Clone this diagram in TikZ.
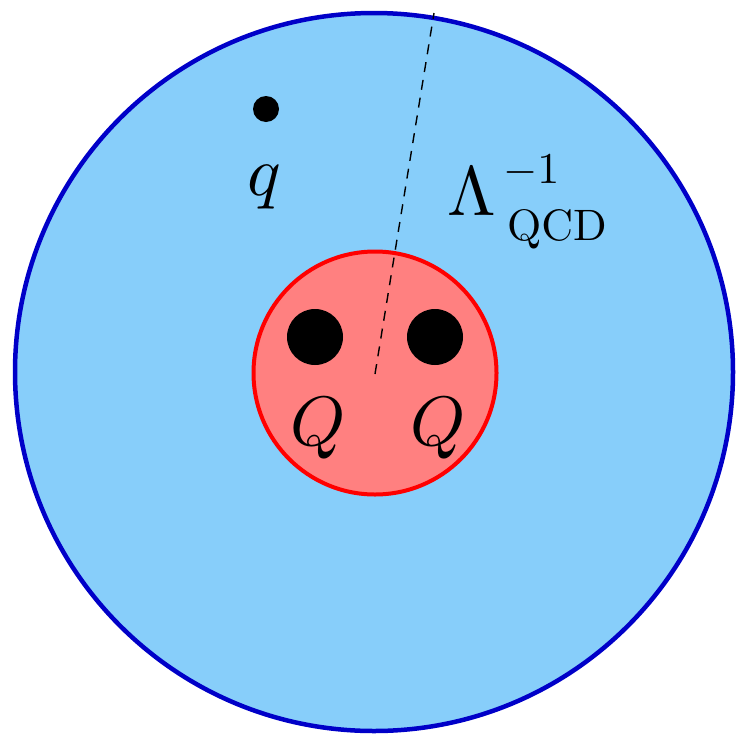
\documentclass[tikz,border=0pt]{standalone}
\definecolor{skyfill}{RGB}{135,206,250}
\definecolor{skyline}{RGB}{0,0,200}
\definecolor{redfill}{RGB}{255,128,128}
\definecolor{redline}{RGB}{255,0,0}
\newcommand{\bigtxt}[1]{\scalebox{7}{#1}}
\newcommand{\scrtxt}[1]{\scalebox{4.4}{#1}}
\tikzset{
  lbl/.style={inner sep=0pt, anchor=base},
  quark/.style={circle, fill=black, inner sep=0pt}
}
\begin{document}
\begin{tikzpicture}[x=1pt,y=-1pt]
\useasboundingbox (0,0) rectangle (736,734);
\node[circle, draw=skyline, fill=skyfill, line width=4.5pt, minimum size=718pt, inner sep=0pt] (outer) at (374,372) {};
\node[circle, draw=redline, fill=redfill, line width=4pt, minimum size=243pt, inner sep=0pt] (inner) at (375,373) {};
\coordinate (c) at (375,374);
\coordinate (rim) at (434,13);
\draw[dash pattern=on 10pt off 8pt, line width=1.4pt] (c) -- (rim);
\node[quark, minimum size=26pt] (qd) at (266,109) {};
\node[quark, minimum size=56pt] (Q1) at (315,337) {};
\node[quark, minimum size=56pt] (Q2) at (435,337) {};
\node[lbl] (ql) at (264,195) {\bigtxt{$q$}};
\node[lbl] (Q1l) at (318,445) {\bigtxt{$Q$}};
\node[lbl] (Q2l) at (438,445) {\bigtxt{$Q$}};
\node[lbl, anchor=base west] (lam) at (447,215) {\bigtxt{$\Lambda$}};
\node[lbl, anchor=base west] (sup) at (503,183) {\scrtxt{$-1$}};
\node[lbl, anchor=base west] (sub) at (507,240) {\scrtxt{$\mathrm{QCD}$}};
\end{tikzpicture}
\end{document}
